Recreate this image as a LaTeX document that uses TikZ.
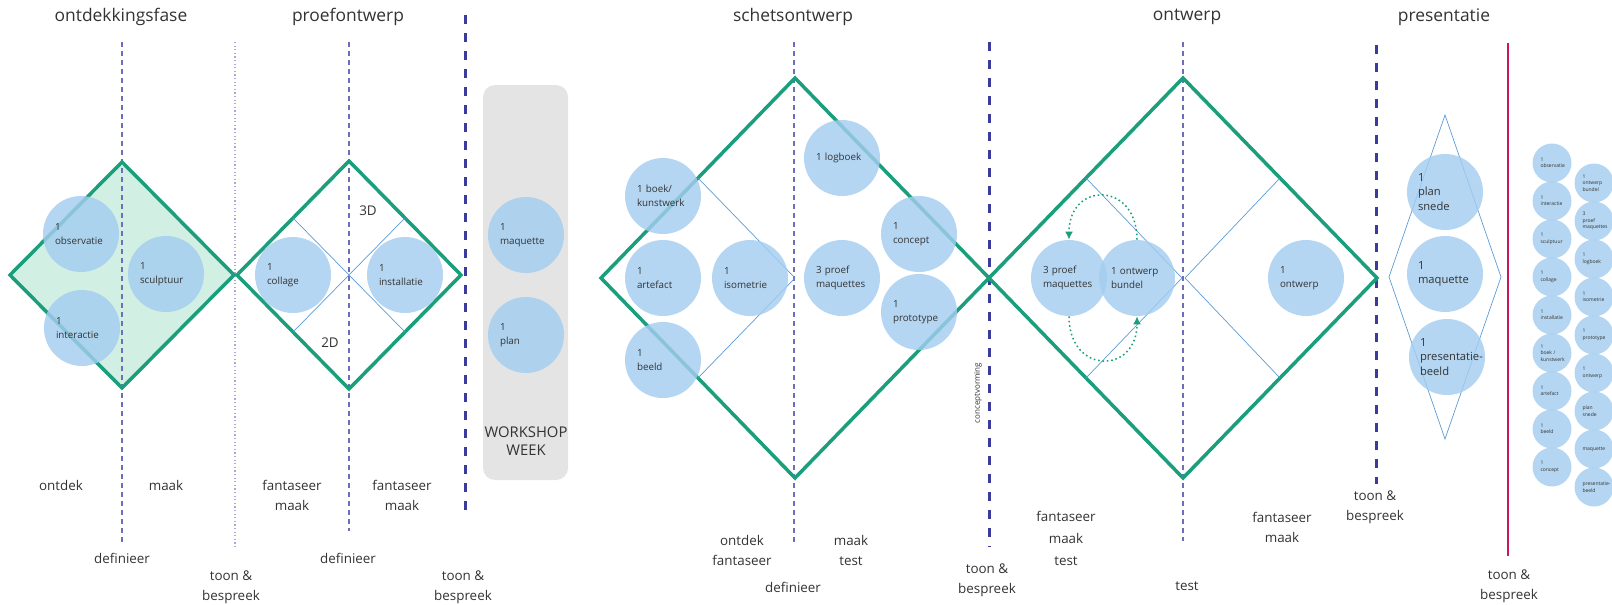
\documentclass[tikz,border=0pt]{standalone}
\usepackage{fontspec}
\setmainfont{Open Sans}
\usetikzlibrary{positioning,arrows.meta}

\definecolor{groen}{HTML}{1A9E7C}
\definecolor{mint}{HTML}{D2EFE4}
\definecolor{bolblauw}{HTML}{A3CDEF}
\definecolor{streep}{HTML}{6E6EB8}
\definecolor{fase}{HTML}{3B3B9E}
\definecolor{dun}{HTML}{5B9BD5}
\definecolor{grijs}{HTML}{E4E4E4}
\definecolor{rood}{HTML}{C8175D}
\definecolor{tekst}{HTML}{333333}

\begin{document}
\begin{tikzpicture}[x=0.5pt, y=-0.5pt, text=tekst, node distance=19pt,
  diamant/.style={draw=groen, line width=1.75pt, line join=miter},
  binnen/.style={draw=dun, line width=0.35pt},
  midden/.style={draw=streep, line width=0.55pt, dash pattern=on 2.5pt off 2pt},
  fasegrens/.style={draw=fase, line width=1.5pt, dash pattern=on 4.5pt off 4.5pt},
  titel/.style={font=\fontsize{8.7}{10}\selectfont},
  onder/.style={font=\fontsize{6.7}{10}\selectfont, align=center},
  bubbel/.style={circle, fill=bolblauw, fill opacity=0.82, text opacity=1, minimum size=38pt,
    inner sep=0pt, text width=26pt, align=left, font=\fontsize{4.9}{7}\selectfont},
  grotebubbel/.style={bubbel, text width=27pt, font=\fontsize{5.6}{7.2}\selectfont},
  minibubbel/.style={bubbel, minimum size=19.5pt, text width=11.5pt, font=\fontsize{2.5}{3.2}\selectfont},
  kring/.style={draw=groen, line width=0.75pt, dash pattern=on 0.8pt off 1.4pt,
    -{Latex[length=4pt,width=4pt]}, looseness=2.2}]
  \useasboundingbox (0,0) rectangle (1612,605);

  % workshop week
  \fill[grijs, rounded corners=6pt] (483,85) rectangle (568,480);

  % ontdekkingsfase fill
  \fill[mint] (122,162) -- (234,275) -- (122,388) -- (10,275) -- cycle;

  % fase lines
  \draw[midden] (122,42) -- (122,542);
  \draw[draw=streep!60, line width=0.6pt, dash pattern=on 0.6pt off 1.2pt] (235,42) -- (235,548);
  \draw[midden] (349,42) -- (349,531);
  \draw[fasegrens] (465,15) -- (465,512);
  \draw[midden] (794,42) -- (794,543);
  \draw[fasegrens] (989,42) -- (989,547);
  \draw[midden] (1183,42) -- (1183,541);
  \draw[fasegrens] (1376,45) -- (1376,484);
  \draw[rood, line width=1.3pt] (1508,43) -- (1508,556);

  % diamonds
  \draw[diamant] (122,162) -- (234,275) -- (122,388) -- (10,275) -- cycle;
  \draw[diamant] (349,161) -- (461,275) -- (349,389) -- (237,275) -- cycle;
  \draw[binnen] (293,218) -- (405,332) (405,218) -- (293,332);
  \draw[diamant] (795,78) -- (989,278) -- (795,478) -- (601,278) -- cycle;
  \draw[binnen] (698,178) -- (795,278) -- (698,378);
  \draw[diamant] (1183,78) -- (1377,278) -- (1183,478) -- (989,278) -- cycle;
  \draw[binnen] (1086,178) -- (1182,278) -- (1086,378);
  \draw[binnen] (1280,178) -- (1185,278) -- (1280,378);
  \draw[binnen] (1445,115) -- (1501,277) -- (1445,439) -- (1389,277) -- cycle;

  % titles
  \node[titel] (ontdekkingsfase) at (121,17) {ontdekkingsfase};
  \node[titel] (proefontwerp) at (348,17) {proefontwerp};
  \node[titel] (schetsontwerp) at (793,17) {schetsontwerp};
  \node[titel] (ontwerp) at (1187,17) {ontwerp};
  \node[titel] (presentatie) at (1444,17) {presentatie};

  % ontdekkingsfase
  \node[bubbel] (observatie) at (81,234) {1\\observatie};
  \node[bubbel] (interactie) at (82,328) {1\\interactie};
  \node[bubbel] (sculptuur) at (166,274) {1\\sculptuur};

  % proefontwerp
  \node[bubbel] (collage) at (293,275) {1\\collage};
  \node[bubbel] (installatie) at (405,275) {1\\installatie};
  \node[onder] (drieD) at (368,211) {3D};
  \node[onder] (tweeD) at (330,343) {2D};

  % workshop
  \node[bubbel] (wsmaquette) at (526,235) {1\\maquette};
  \node[bubbel] (wsplan) at (526,335) {1\\plan};
  \node[onder, font=\fontsize{7.4}{9}\selectfont] (workshop) at (526,441) {WORKSHOP\\WEEK};

  % schetsontwerp
  \node[bubbel] (boek) at (663,196) {1 boek/\\kunstwerk};
  \node[bubbel] (artefact) at (663,278) {1\\artefact};
  \node[bubbel] (beeld) at (663,360) {1\\beeld};
  \node[bubbel] (isometrie) at (750,278) {1\\isometrie};
  \node[bubbel] (logboek) at (842,158) {1 logboek};
  \node[bubbel] (proefmaq) at (842,278) {3 proef\\maquettes};
  \node[bubbel] (concept) at (919,234) {1\\concept};
  \node[bubbel] (prototype) at (919,312) {1\\prototype};

  % ontwerp
  \node[bubbel] (maq) at (1069,278) {3 proef\\maquettes};
  \node[bubbel] (bundel) at (1137,278) {1 ontwerp\\bundel};
  \node[bubbel] (eindontwerp) at (1306,278) {1\\ontwerp};
  \path
    (bundel.north) edge[kring, out=90, in=90] (maq.north)
    (maq.south) edge[kring, out=-90, in=-90] (bundel.south);

  % presentatie
  \node[grotebubbel] (plansnede) at (1445,192) {1\\plan\\snede};
  \node[grotebubbel] (presmaquette) at (1445,274) {1\\maquette};
  \node[grotebubbel] (presbeeld) at (1447,357) {1\\\mbox{presentatie-}\\beeld};

  % overview
  \node[minibubbel] (k1) at (1552,163) {1\\observatie};
  \node[minibubbel, below of=k1] (k2) {1\\interactie};
  \node[minibubbel, below of=k2] (k3) {1\\sculptuur};
  \node[minibubbel, below of=k3] (k4) {1\\collage};
  \node[minibubbel, below of=k4] (k5) {1\\installatie};
  \node[minibubbel, below of=k5] (k6) {1\\boek /\\kunstwerk};
  \node[minibubbel, below of=k6] (k7) {1\\artefact};
  \node[minibubbel, below of=k7] (k8) {1\\beeld};
  \node[minibubbel, below of=k8] (k9) {1\\concept};
  \node[minibubbel] (r1) at (1594,183) {1\\ontwerp\\bundel};
  \node[minibubbel, below of=r1] (r2) {3\\proef\\maquettes};
  \node[minibubbel, below of=r2] (r3) {1\\logboek};
  \node[minibubbel, below of=r3] (r4) {1\\isometrie};
  \node[minibubbel, below of=r4] (r5) {1\\prototype};
  \node[minibubbel, below of=r5] (r6) {1\\ontwerp};
  \node[minibubbel, below of=r6] (r7) {plan\\snede};
  \node[minibubbel, below of=r7] (r8) {maquette};
  \node[minibubbel, below of=r8] (r9) {\mbox{presentatie-}\\beeld};

  % bottom labels
  \node[onder] (ontdek) at (61,485) {ontdek};
  \node[onder] (maak) at (166,485) {maak};
  \node[onder] (fm1) at (292,495) {fantaseer\\maak};
  \node[onder] (fm2) at (402,495) {fantaseer\\maak};
  \node[onder] (def1) at (122,558) {definieer};
  \node[onder] (def2) at (348,558) {definieer};
  \node[onder] (tb1) at (231,587) {toon \&\\bespreek};
  \node[onder] (tb2) at (463,587) {toon \&\\bespreek};
  \node[onder] (ontdekfant) at (742,550) {ontdek\\fantaseer};
  \node[onder] (maaktest) at (851,550) {maak\\test};
  \node[onder] (def3) at (793,587) {definieer};
  \node[onder] (tb3) at (987,580) {toon \&\\bespreek};
  \node[onder, font=\fontsize{6.7}{11}\selectfont] (fmt) at (1066,538) {fantaseer\\maak\\test};
  \node[onder] (test) at (1187,586) {test};
  \node[onder] (fm3) at (1282,527) {fantaseer\\maak};
  \node[onder] (tb4) at (1375,507) {toon \&\\bespreek};
  \node[onder] (tb5) at (1509,586) {toon \&\\bespreek};
  \node[rotate=90, font=\fontsize{4}{5}\selectfont] (conceptvorming) at (978,393) {conceptvorming};
\end{tikzpicture}
\end{document}
